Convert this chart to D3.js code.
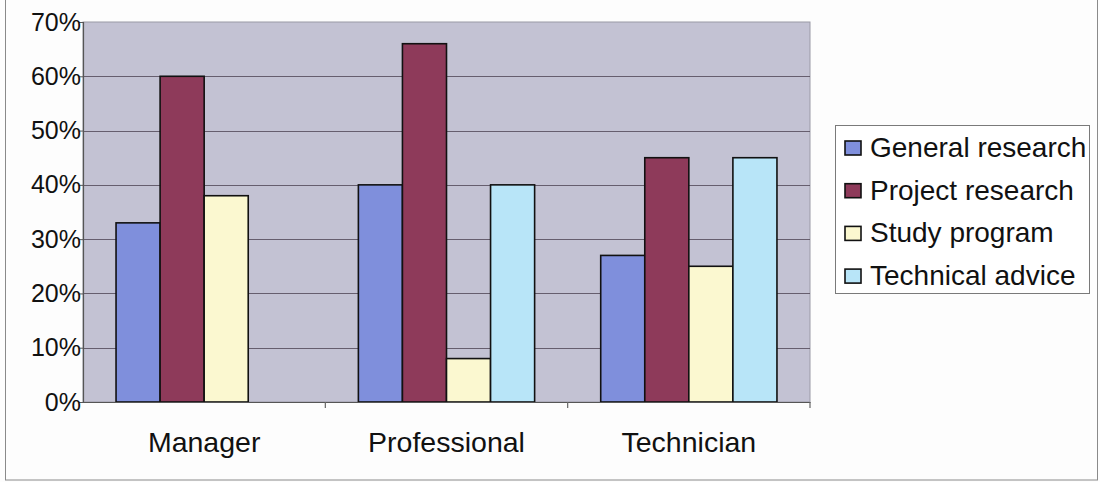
<!DOCTYPE html>
<html>
<head>
<meta charset="utf-8">
<script src="https://cdn.jsdelivr.net/npm/d3@7"></script>
<style>
  html, body { margin: 0; padding: 0; background: #fdfdfd; }
  svg { display: block; font-family: "Liberation Sans", Arial, sans-serif; }
</style>
</head>
<body>
<svg id="chart" width="1100" height="482"></svg>
<script>
// Share of respondents using each kind of research service, by occupation
const categories = ["Manager", "Professional", "Technician"];
const seriesNames = ["General research", "Project research", "Study program", "Technical advice"];
const generalResearch  = [0.33, 0.40, 0.27];
const projectResearch  = [0.60, 0.66, 0.45];
const studyProgram     = [0.38, 0.08, 0.25];
const technicalAdvice  = [null, 0.40, 0.45];
const yTicks = [0, 0.1, 0.2, 0.3, 0.4, 0.5, 0.6, 0.7];
const colors = ["#7f8fdc", "#8e3a5a", "#fbf8d0", "#b8e5f8"];

const seriesValues = [generalResearch, projectResearch, studyProgram, technicalAdvice];

const svg = d3.select("#chart");
const W = 1100, H = 482;
const plot = { left: 83, right: 810, top: 22, bottom: 402 };

// outer chart frame
svg.append("rect")
  .attr("x", 5.5).attr("y", -2).attr("width", 1092).attr("height", 482)
  .attr("fill", "#fdfdfd").attr("stroke", "#8a8a8a").attr("stroke-width", 1);

const y = d3.scaleLinear().domain([0, 0.7]).range([plot.bottom, plot.top]);
const x0 = d3.scaleBand().domain(categories).range([plot.left, plot.right]).padding(0);
// bar width w with a 150% gap: 4w + 1.5w = band
const bw = x0.bandwidth() / 5.5;
const x1 = d3.scaleBand().domain(seriesNames).range([0.75 * bw, 4.75 * bw]).padding(0);

// plot area background
svg.append("rect")
  .attr("x", plot.left).attr("y", plot.top)
  .attr("width", plot.right - plot.left).attr("height", plot.bottom - plot.top)
  .attr("fill", "#c3c2d3").attr("stroke", "#9a9aa6").attr("stroke-width", 1);

// horizontal gridlines
svg.append("g")
  .selectAll("line")
  .data(yTicks.filter(t => t > 0 && t < 0.7))
  .join("line")
  .attr("x1", plot.left).attr("x2", plot.right)
  .attr("y1", d => Math.round(y(d)) + 0.5).attr("y2", d => Math.round(y(d)) + 0.5)
  .attr("stroke", "#4f4656").attr("stroke-width", 1).attr("opacity", 0.8);

// bars
const groups = svg.append("g")
  .selectAll("g")
  .data(categories.map((c, i) => ({ c, vals: seriesNames.map((s, k) => ({ s, k, v: seriesValues[k][i] })) })))
  .join("g")
  .attr("transform", d => `translate(${x0(d.c)},0)`);

groups.selectAll("rect")
  .data(d => d.vals.filter(e => e.v !== null))
  .join("rect")
  .attr("x", d => x1(d.s))
  .attr("y", d => y(d.v))
  .attr("width", x1.bandwidth())
  .attr("height", d => y(0) - y(d.v))
  .attr("fill", d => colors[d.k])
  .attr("stroke", "#111")
  .attr("stroke-width", 1.6);

// y axis
const yAxis = d3.axisLeft(y).tickValues(yTicks).tickFormat(d3.format(".0%")).tickSize(4).tickPadding(-2);
const gy = svg.append("g").attr("transform", `translate(${plot.left},0)`).call(yAxis);
gy.select(".domain").attr("stroke", "#555").attr("stroke-width", 1.2);
gy.selectAll(".tick line").attr("stroke", "#555");
gy.selectAll(".tick text")
  .attr("font-size", 25).attr("fill", "#111")
  .attr("font-family", "'Liberation Sans', Arial, sans-serif");

// x axis
const xAxis = d3.axisBottom(x0).tickSize(0).tickPadding(30);
const gx = svg.append("g").attr("transform", `translate(0,${plot.bottom})`).call(xAxis);
gx.select(".domain").attr("stroke", "#555").attr("stroke-width", 1.2);
gx.selectAll(".tick text")
  .attr("font-size", 28.5).attr("fill", "#111")
  .attr("font-family", "'Liberation Sans', Arial, sans-serif");
// category separator ticks
gx.append("g").selectAll("line")
  .data(categories.map(c => x0(c) + x0.bandwidth()))
  .join("line")
  .attr("x1", d => d).attr("x2", d => d)
  .attr("y1", 0).attr("y2", 6)
  .attr("stroke", "#666").attr("stroke-width", 1.2);

// legend
const legend = svg.append("g");
legend.append("rect")
  .attr("x", 835.5).attr("y", 125.5).attr("width", 254).attr("height", 168)
  .attr("fill", "#ffffff").attr("stroke", "#7a7a7a").attr("stroke-width", 1);
const items = legend.selectAll("g.item")
  .data(seriesNames)
  .join("g").attr("class", "item")
  .attr("transform", (d, i) => `translate(845,${157 + i * 42.7})`);
items.append("rect")
  .attr("x", 0).attr("y", -16).attr("width", 16).attr("height", 14)
  .attr("fill", (d, i) => colors[i]).attr("stroke", "#111").attr("stroke-width", 1.6);
items.append("text")
  .attr("x", 25).attr("y", 0)
  .attr("font-size", 28).attr("fill", "#111")
  .text(d => d);
</script>
</body>
</html>
